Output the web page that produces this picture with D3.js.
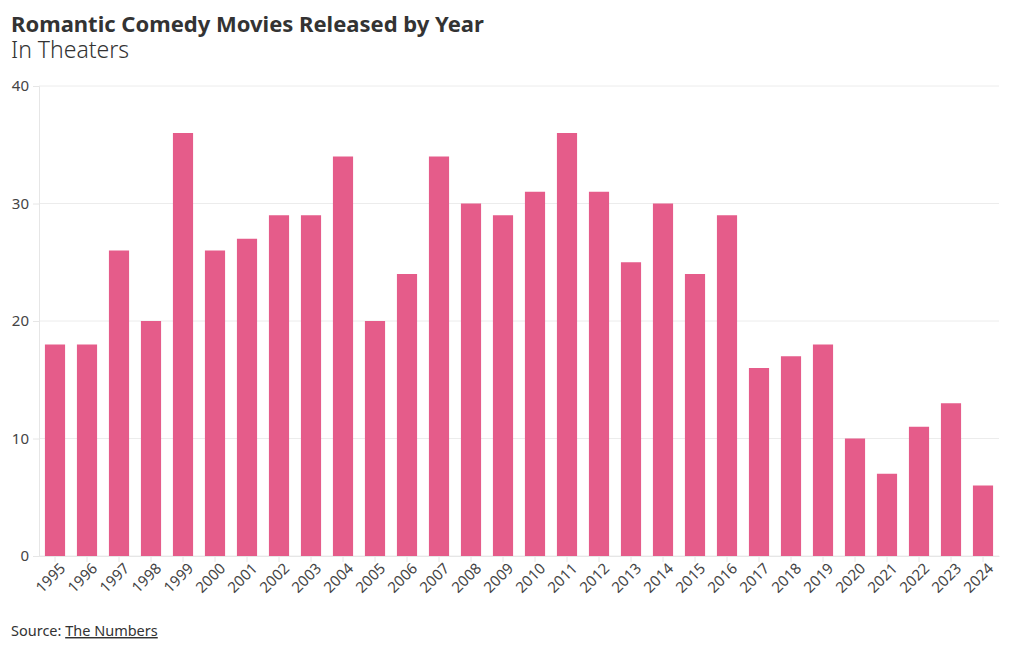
<!DOCTYPE html>
<html>
<head>
<meta charset="utf-8">
<script src="https://cdn.jsdelivr.net/npm/d3@7"></script>
<style>
    body { margin: 0; background: #fff; font-family: "Noto Sans", sans-serif; }
    svg { display: block; }
</style>
</head>
<body>
<svg id="chart"></svg>
<script>
// data
const years = ["1995", "1996", "1997", "1998", "1999", "2000", "2001", "2002", "2003", "2004",
    "2005", "2006", "2007", "2008", "2009", "2010", "2011", "2012", "2013", "2014",
    "2015", "2016", "2017", "2018", "2019", "2020", "2021", "2022", "2023", "2024"];
const movies = [18, 18, 26, 20, 36, 26, 27, 29, 29, 34,
    20, 24, 34, 30, 29, 31, 36, 31, 25, 30,
    24, 29, 16, 17, 18, 10, 7, 11, 13, 6];
const yTicks = [0, 10, 20, 30, 40];

const width = 1020;
const height = 650;
const margin = { top: 86, right: 21, bottom: 94, left: 39 };
const barColor = "#e55c8a";
const textColor = "#333333";

const svg = d3.select("#chart")
    .attr("width", width)
    .attr("height", height);

// Title and subtitle
svg.append("text")
    .attr("x", 11)
    .attr("y", 32)
    .style("font-size", "22px")
    .style("font-weight", "700")
    .style("fill", textColor)
    .text("Romantic Comedy Movies Released by Year");

svg.append("text")
    .attr("x", 11)
    .attr("y", 58)
    .style("font-size", "23px")
    .style("font-weight", "300")
    .style("fill", textColor)
    .text("In Theaters");

const x = d3.scaleBand()
    .domain(years)
    .range([margin.left, width - margin.right])
    .paddingInner(0.37)
    .paddingOuter(0.185);

const y = d3.scaleLinear()
    .domain([0, 40])
    .range([height - margin.bottom, margin.top]);

// Grid lines
svg.append("g")
    .selectAll("line")
    .data(yTicks)
    .enter()
    .append("line")
    .attr("x1", margin.left)
    .attr("x2", width - margin.right)
    .attr("y1", (d) => y(d))
    .attr("y2", (d) => y(d))
    .attr("stroke", "#ececec")
    .attr("stroke-width", 1);

// Y axis
const yAxis = svg.append("g")
    .attr("transform", `translate(${margin.left}, 0)`)
    .call(d3.axisLeft(y).tickValues(yTicks).tickSize(6).tickPadding(4));

yAxis.select(".domain").attr("stroke", "#e6e6e6");
yAxis.selectAll(".tick line").attr("stroke", "#e6e6e6");
yAxis.selectAll("text")
    .style("font-size", "15px")
    .style("font-family", "Noto Sans")
    .style("fill", "#444");

// Bars
svg.append("g")
    .selectAll("rect")
    .data(movies)
    .enter()
    .append("rect")
    .attr("x", (d, i) => x(years[i]))
    .attr("y", (d) => y(d))
    .attr("width", x.bandwidth())
    .attr("height", (d) => y(0) - y(d))
    .attr("fill", barColor);

// X axis
const xAxis = svg.append("g")
    .attr("transform", `translate(0, ${height - margin.bottom})`)
    .call(d3.axisBottom(x).tickSize(6).tickSizeOuter(0).tickPadding(4));

xAxis.select(".domain").attr("stroke", "#e6e6e6");
xAxis.selectAll(".tick line").attr("stroke", "#e6e6e6");
xAxis.selectAll("text")
    .style("font-size", "15px")
    .style("font-family", "Noto Sans")
    .style("fill", "#444")
    .attr("text-anchor", "end")
    .attr("dx", "-0.1em")
    .attr("dy", "0.5em")
    .attr("transform", "rotate(-45)");

// Source line
const source = svg.append("text")
    .attr("x", 11)
    .attr("y", 636)
    .style("font-size", "14.5px")
    .style("fill", textColor);

source.append("tspan").text("Source: ");
source.append("tspan")
    .style("text-decoration", "underline")
    .text("The Numbers");
</script>
</body>
</html>
